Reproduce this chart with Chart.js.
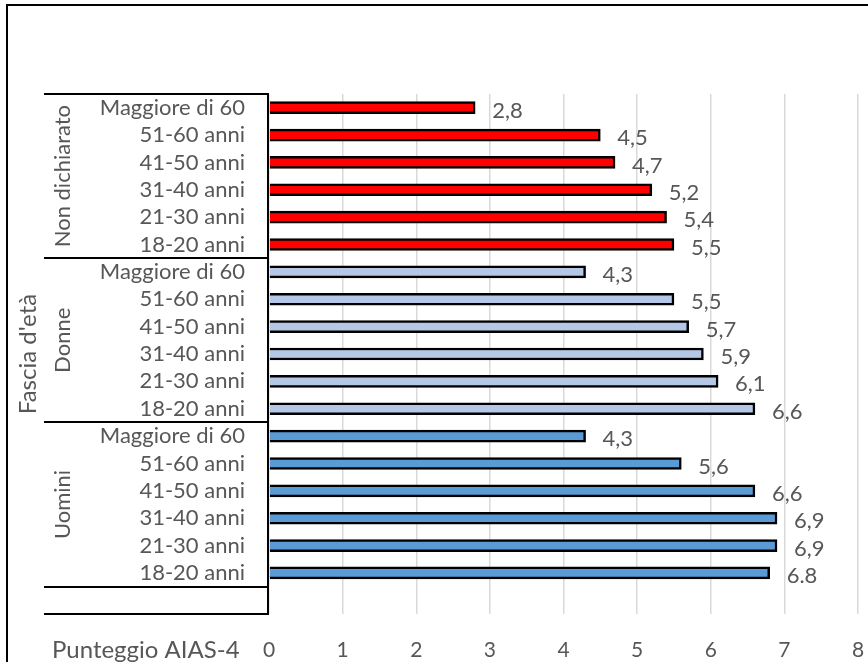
<!DOCTYPE html>
<html>
<head>
<meta charset="utf-8">
<script src="https://cdn.jsdelivr.net/npm/chart.js@4/dist/chart.umd.min.js"></script>
<style>
  html, body { margin: 0; padding: 0; background: #ffffff; }
  #wrap { width: 868px; height: 662px; }
</style>
</head>
<body>
<div id="wrap"><canvas id="chart" width="868" height="662"></canvas></div>
<script>
// Age bands, listed from the bottom of each group upwards
const ageBands = ['18-20 anni', '21-30 anni', '31-40 anni', '41-50 anni', '51-60 anni', 'Maggiore di 60'];
// Groups, listed from the bottom of the axis upwards
const groupNames = ['Uomini', 'Donne', 'Non dichiarato'];
const uominiScores = [6.8, 6.9, 6.9, 6.6, 5.6, 4.3];
const donneScores = [6.6, 6.1, 5.9, 5.7, 5.5, 4.3];
const nonDichiaratoScores = [5.5, 5.4, 5.2, 4.7, 4.5, 2.8];
// decimal separator printed in each value label
const uominiDecimalMarks = ['.', ',', ',', ',', ',', ','];
const donneDecimalMarks = [',', ',', ',', ',', ',', ','];
const nonDichiaratoDecimalMarks = [',', ',', ',', ',', ',', ','];
const xTickValues = [0, 1, 2, 3, 4, 5, 6, 7, 8];
const yAxisTitle = "Fascia d'età";
const xAxisTitle = 'Punteggio AIAS-4';

const groupColors = ['#5B9BD5', '#B4C7E7', '#FF0000'];
const textColor = '#575757';
const fontFamily = 'Lato, "Open Sans", sans-serif';

// one empty slot below the first group, then six bands per group
const labels = [''];
const values = [null];
const colors = ['rgba(0,0,0,0)'];
const marks = [''];
const groupSeries = [uominiScores, donneScores, nonDichiaratoScores];
const groupMarks = [uominiDecimalMarks, donneDecimalMarks, nonDichiaratoDecimalMarks];
groupSeries.forEach((series, g) => {
  series.forEach((v, i) => {
    labels.push(ageBands[i]);
    values.push(v);
    colors.push(groupColors[g]);
    marks.push(groupMarks[g][i]);
  });
});

// outer frame of the figure
const framePlugin = {
  id: 'frame',
  beforeDraw(chart) {
    const c = chart.ctx;
    c.save();
    c.fillStyle = '#ffffff';
    c.fillRect(0, 0, chart.width, chart.height);
    c.strokeStyle = '#000000';
    c.lineWidth = 2;
    c.strokeRect(7, 5, chart.width + 10, chart.height + 10);
    c.restore();
  }
};

// category table lines, group names and axis captions
const tablePlugin = {
  id: 'categoryTable',
  afterDraw(chart) {
    const c = chart.ctx;
    const y = chart.scales.y;
    const area = chart.chartArea;
    const n = labels.length;
    const edge = (i) => (y.getPixelForValue(i) + y.getPixelForValue(i + 1)) / 2;
    const rowH = Math.abs(y.getPixelForValue(1) - y.getPixelForValue(0));
    const topY = y.getPixelForValue(n - 1) - rowH / 2;
    const bottomY = y.getPixelForValue(0) + rowH / 2;
    const lineLeft = 44;
    const axisX = area.left - 1;

    c.save();
    c.strokeStyle = '#000000';
    c.lineWidth = 2;
    const hLines = [topY, bottomY, edge(0)];
    for (let g = 1; g < groupNames.length; g++) hLines.push(edge(g * ageBands.length));
    c.beginPath();
    hLines.forEach(py => {
      c.moveTo(lineLeft, Math.round(py));
      c.lineTo(axisX, Math.round(py));
    });
    c.moveTo(axisX, Math.round(topY) - 1);
    c.lineTo(axisX, Math.round(bottomY) + 1);
    c.stroke();

    c.fillStyle = textColor;
    c.textAlign = 'center';
    c.textBaseline = 'middle';
    // group names, rotated
    c.font = '22px ' + fontFamily;
    groupNames.forEach((name, g) => {
      const a = y.getPixelForValue(1 + g * ageBands.length);
      const b = y.getPixelForValue((g + 1) * ageBands.length);
      c.save();
      c.translate(63, (a + b) / 2);
      c.rotate(-Math.PI / 2);
      c.fillText(name, 0, 0);
      c.restore();
    });
    // vertical axis caption
    c.font = '24px ' + fontFamily;
    c.save();
    c.translate(28, (topY + bottomY) / 2);
    c.rotate(-Math.PI / 2);
    c.fillText(yAxisTitle, 0, 0);
    c.restore();
    // horizontal axis caption, on the tick label row
    c.textAlign = 'left';
    c.fillText(xAxisTitle, 52, 650);
    c.restore();
  }
};

// value labels to the right of each bar
const valueLabelPlugin = {
  id: 'valueLabels',
  afterDatasetsDraw(chart) {
    const c = chart.ctx;
    const meta = chart.getDatasetMeta(0);
    c.save();
    c.fillStyle = textColor;
    c.font = '22px ' + fontFamily;
    c.textAlign = 'left';
    c.textBaseline = 'middle';
    meta.data.forEach((bar, i) => {
      const v = values[i];
      if (v === null) return;
      const text = v.toFixed(1).replace('.', marks[i]);
      c.fillText(text, bar.x + 17, bar.y + 3);
    });
    c.restore();
  }
};

new Chart(document.getElementById('chart'), {
  type: 'bar',
  data: {
    labels: labels,
    datasets: [{
      data: values,
      backgroundColor: colors,
      borderColor: '#000000',
      borderWidth: 2.5,
      borderSkipped: 'start',
      barThickness: 12
    }]
  },
  options: {
    indexAxis: 'y',
    responsive: false,
    animation: false,
    devicePixelRatio: 1,
    layout: { padding: { top: 94, right: 10, left: 0, bottom: 0 } },
    plugins: { legend: { display: false }, tooltip: { enabled: false } },
    scales: {
      x: {
        type: 'linear',
        min: xTickValues[0],
        max: xTickValues[xTickValues.length - 1],
        afterBuildTicks(scale) { scale.ticks = xTickValues.map(v => ({ value: v })); },
        ticks: { color: textColor, font: { family: fontFamily, size: 21 }, padding: 24 },
        grid: { color: '#D9D9D9', lineWidth: 1.5, drawTicks: false },
        border: { display: false },
        afterFit(scale) {
          scale.height = 48;
          scale.paddingLeft = 0;
          scale.paddingRight = 0;
        }
      },
      y: {
        reverse: true,
        grid: { display: false, drawTicks: false },
        border: { display: false },
        ticks: { color: textColor, font: { family: fontFamily, size: 22 }, padding: 24, autoSkip: false },
        afterFit(scale) { scale.width = 269; }
      }
    }
  },
  plugins: [framePlugin, tablePlugin, valueLabelPlugin]
});
</script>
</body>
</html>
